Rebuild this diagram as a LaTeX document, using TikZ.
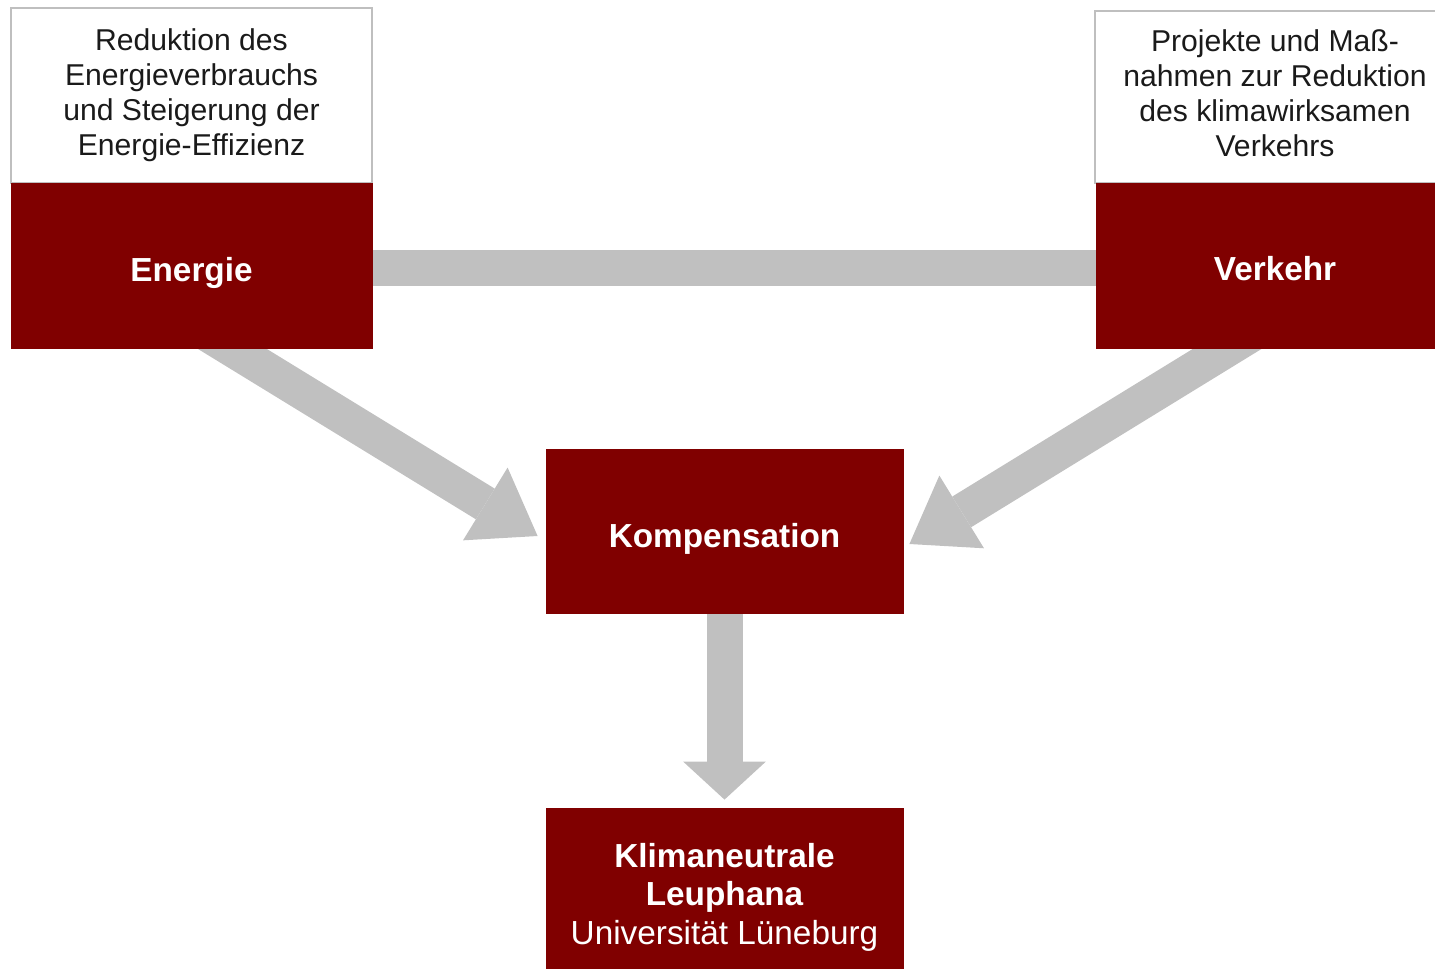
\documentclass[tikz,border=0pt]{standalone}
\usepackage{fontspec}
\setmainfont{Liberation Sans}
\usetikzlibrary{arrows.meta,calc,backgrounds}
\definecolor{lred}{HTML}{800000}
\definecolor{lgray}{HTML}{C0C0C0}
\definecolor{bgray}{HTML}{BFBFBF}
\definecolor{tgray}{HTML}{1A1A1A}
\tikzset{
  redbox/.style={fill=lred, draw=lred, line width=0.6pt, text=white, inner sep=0pt, align=center,
    font=\fontsize{25}{29}\selectfont\bfseries},
  notebox/.style={fill=white, draw=bgray, line width=1pt, inner sep=0pt, align=center, text=tgray,
    font=\fontsize{22.6}{26.3}\selectfont},
  flow/.style={draw=lgray, line width=27pt,
    -{Triangle[length=46pt,width=64pt,line width=0pt]}},
  downflow/.style={draw=lgray, line width=27pt,
    -{Triangle[length=28.5pt,width=62pt,line width=0pt]}},
  bar/.style={draw=lgray, line width=27pt},
}
\begin{document}
\begin{tikzpicture}[x=0.75pt,y=-0.75pt]
\useasboundingbox (0,0) rectangle (1435,968);
\clip (0,0) rectangle (1435,968);

\node[notebox, minimum width=270.75pt, minimum height=131.25pt] (note1) at (191.5,95.5)
  {Reduktion des\\Energieverbrauchs\\und Steigerung der\\Energie-Effizienz};
\node[redbox, minimum width=270.75pt, minimum height=123.75pt, text height=24.5pt, text depth=0pt] (energie) at (191.5,265.5) {Energie};

\node[notebox, minimum width=270pt, minimum height=129pt] (note2) at (1275,97)
  {Projekte und Maß-\\nahmen zur Reduktion\\des klimawirksamen\\Verkehrs\rule[-6pt]{0pt}{6pt}};
\node[redbox, minimum width=268.5pt, minimum height=123.75pt, text height=22.4pt, text depth=0pt] (verkehr) at (1275,265.5) {Verkehr};

\node[redbox, minimum width=267.75pt, minimum height=123pt, text height=24.5pt, text depth=0pt] (komp) at (724.5,531) {Kompensation};

\node[redbox, minimum width=267.75pt, minimum height=123pt] (klima) at (724.5,890)
  {\rule{0pt}{29pt}Klimaneutrale\\Leuphana\\{\mdseries Universität Lüneburg}};

\coordinate (a1) at ($(energie.south)+(40,0)$);
\coordinate (t1) at ($(komp.west)+(-8,5)$);
\coordinate (a2) at ($(verkehr.south)+(-47,0)$);
\coordinate (t2) at ($(komp.east)+(6,13)$);
\coordinate (t3) at ($(klima.north)+(0,-8)$);

\begin{scope}[on background layer]
  \draw[bar] ([yshift=-2pt]energie.center) -- ([yshift=-2pt]verkehr.center);
  \draw[flow] ($(a1)!-0.2!(t1)$) -- (t1);
  \draw[flow] ($(a2)!-0.2!(t2)$) -- (t2);
  \draw[downflow] (komp.center) -- (t3);
\end{scope}
\end{tikzpicture}
\end{document}
